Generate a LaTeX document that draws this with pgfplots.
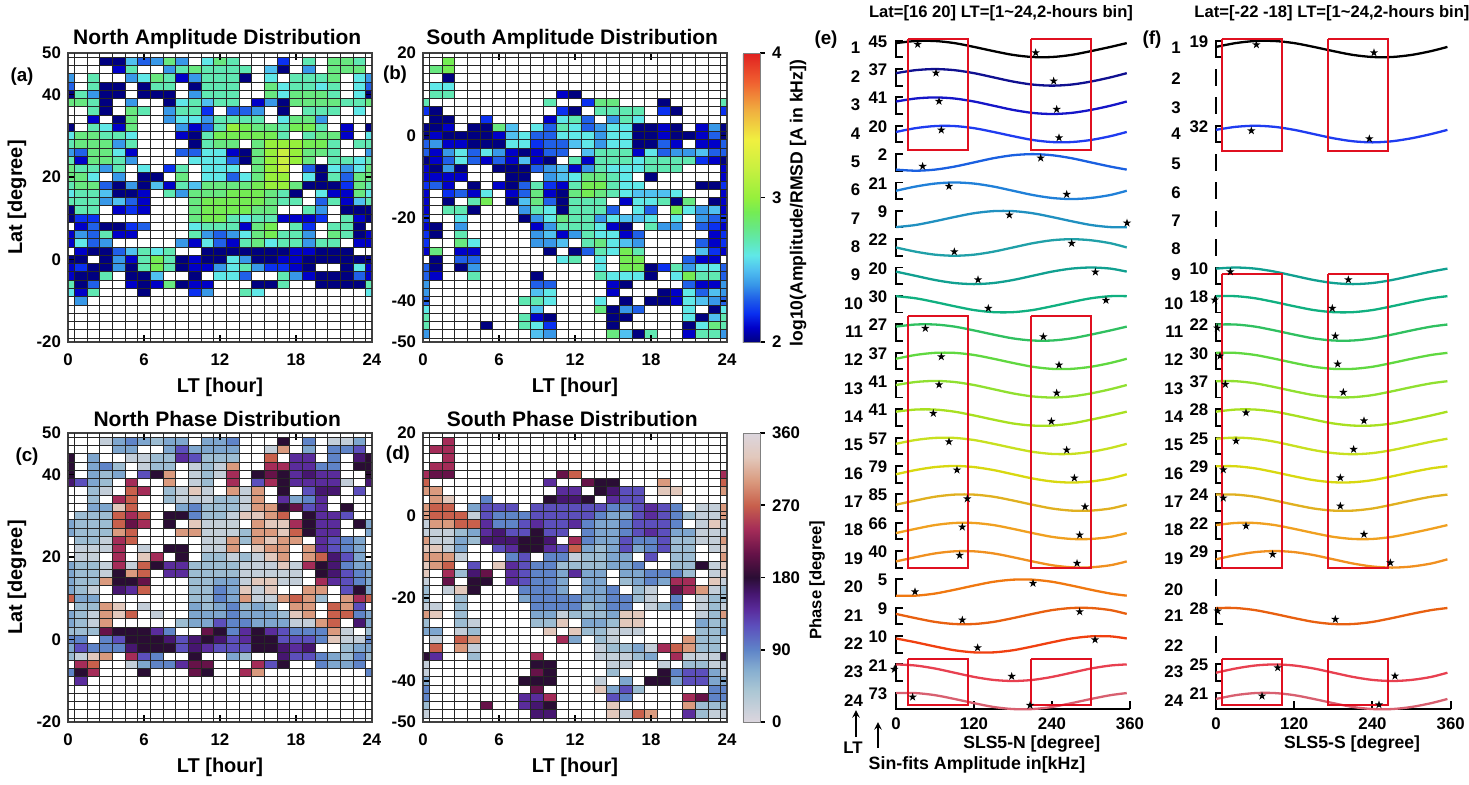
\documentclass[border=0pt]{standalone}
\usepackage{pgfplots}
\usepackage{pgfplotstable}
\usepackage{fontspec}
\setmainfont{Liberation Sans}
\pgfplotsset{compat=1.18}
\newcommand\tf{\bfseries\fontsize{8.4}{10}\selectfont}
\pgfdeclareplotmark{cellmark}{\pgfpathrectangle{\pgfqpoint{-3.2pt}{-2.1pt}}{\pgfqpoint{6.4pt}{4.2pt}}\pgfusepathqfill}
\pgfdeclareplotmark{fstar}{\pgfpathmoveto{\pgfqpoint{0pt}{2.2pt}}
\pgfpathlineto{\pgfqpoint{-.49pt}{.68pt}}\pgfpathlineto{\pgfqpoint{-2.09pt}{.68pt}}\pgfpathlineto{\pgfqpoint{-.8pt}{-.26pt}}
\pgfpathlineto{\pgfqpoint{-1.29pt}{-1.78pt}}\pgfpathlineto{\pgfqpoint{0pt}{-.84pt}}\pgfpathlineto{\pgfqpoint{1.29pt}{-1.78pt}}
\pgfpathlineto{\pgfqpoint{.8pt}{-.26pt}}\pgfpathlineto{\pgfqpoint{2.09pt}{.68pt}}\pgfpathlineto{\pgfqpoint{.49pt}{.68pt}}\pgfpathclose\pgfusepathqfill}
\pgfplotsset{
 colormap={amp}{rgb255(0)=(0,0,128);rgb255(10)=(0,0,200);rgb255(20)=(10,48,240);rgb255(30)=(32,96,232);rgb255(40)=(56,152,232);rgb255(50)=(80,192,240);rgb255(60)=(96,232,232);rgb255(70)=(96,232,178);rgb255(80)=(104,232,128);rgb255(90)=(116,236,84);rgb255(100)=(150,240,60);rgb255(120)=(200,240,64);rgb255(140)=(240,240,64);rgb255(160)=(240,176,64);rgb255(180)=(240,96,48);rgb255(200)=(224,32,32)},
 colormap={pha}{rgb255(0)=(220,214,222);rgb255(40)=(170,198,212);rgb255(65)=(134,174,208);rgb255(90)=(95,132,200);rgb255(120)=(92,79,188);rgb255(140)=(90,44,156);rgb255(160)=(70,22,112);rgb255(180)=(42,13,52);rgb255(210)=(102,18,72);rgb255(240)=(164,44,88);rgb255(270)=(200,96,76);rgb255(300)=(218,154,126);rgb255(330)=(226,200,188);rgb255(360)=(220,214,222)},
 heat/.style={scale only axis,width=152pt,height=144.5pt,xmin=0,xmax=24,xtick={0,6,12,18,24},
  axis on top,axis line style={line width=.9pt,black!75},tick align=inside,major tick length=3.5pt,
  major tick style={black,line width=.8pt},tick label style={font=\tf},/pgf/number format/assume math mode=true,
  every axis title/.style={at={(axis description cs:0.5,1)},anchor=center,yshift=7pt,xshift=-1.4pt,font=\bfseries\fontsize{10.5}{12}\selectfont},
  every axis x label/.style={at={(axis description cs:0.5,0)},anchor=center,yshift=-22.5pt,font=\bfseries\fontsize{10}{12}\selectfont},
  every axis y label/.style={at={(axis description cs:-0.168,0.5)},anchor=center,rotate=90,font=\bfseries\fontsize{10}{12}\selectfont},
  xticklabel style={yshift=-2.5pt},clip=true,clip marker paths=true,unbounded coords=discard},
 latn/.style={ymin=-20,ymax=50,ytick={-20,0,20,40,50}},
 lats/.style={ymin=-50,ymax=20,ytick={-50,-40,-20,0,20}},
 ampm/.style={colormap name=amp,point meta min=2,point meta max=4},
 pham/.style={colormap name=pha,point meta min=0,point meta max=360},
 fitax/.style={scale only axis,height=339.65pt,xmin=0,xmax=360,ymin=-709.3,ymax=-30,clip=false,
  axis x line*=bottom,axis y line=none,xtick={0,120,240,360},tick align=inside,major tick length=4pt,
  axis line style={line width=1pt},major tick style={line width=1pt,black},
  tick label style={font=\tf},/pgf/number format/assume math mode=true},
 curve/.style={no marks,smooth,line width=1.15pt},
 redbox/.style={boxred,line width=.9pt,no marks}
}
\tikzset{gl/.style={black!85,line width=.33pt}}
\newcommand\heatcells[2]{\pgfplotsinvokeforeach{1,...,25}{\addplot[forget plot,scatter,only marks,mark=cellmark,scatter src=explicit] table[x expr=##1-1,y expr={\thisrowno{##1}>0 ? \thisrowno{0} : nan},meta expr=\thisrowno{##1}#2]{#1};}}
\newcommand\gridlines[3]{\pgfplotsinvokeforeach{0.5,1.5,...,23.5}{\draw[gl] (axis cs:##1,#1)--(axis cs:##1,#2);}\pgfplotsinvokeforeach{#3}{\draw[gl] (axis cs:0,##1)--(axis cs:24,##1);}}
\newcommand\fit[3]{\addplot[curve,color=#1] table[x=x,y expr=\thisrow{#3}-(20.65+28.35*#2)]{\sinetab};}
\newcommand\brk[1]{\addplot[black,line width=.95pt,no marks] table[x=x,y expr=\thisrow{y}-(20.65+28.35*#1)]{\brtab};}
\newcommand\vbar[1]{\addplot[black,line width=.95pt,no marks] table[x expr=0,y expr=\thisrow{y}-(20.65+28.35*#1)]{\brtab};}
\definecolor{r1}{RGB}{0,0,0}\definecolor{r2}{RGB}{16,16,144}\definecolor{r3}{RGB}{21,21,200}\definecolor{r4}{RGB}{31,60,240}
\definecolor{r5}{RGB}{26,96,224}\definecolor{r6}{RGB}{32,128,216}\definecolor{r7}{RGB}{32,144,192}\definecolor{r8}{RGB}{32,160,168}
\definecolor{r9}{RGB}{16,160,144}\definecolor{r10}{RGB}{16,176,128}\definecolor{r11}{RGB}{48,192,96}\definecolor{r12}{RGB}{96,216,64}
\definecolor{r13}{RGB}{144,224,48}\definecolor{r14}{RGB}{168,224,32}\definecolor{r15}{RGB}{200,224,32}\definecolor{r16}{RGB}{216,216,16}
\definecolor{r17}{RGB}{224,176,32}\definecolor{r18}{RGB}{240,160,32}\definecolor{r19}{RGB}{240,144,32}\definecolor{r20}{RGB}{240,120,16}
\definecolor{r21}{RGB}{232,96,16}\definecolor{r22}{RGB}{240,64,16}\definecolor{r23}{RGB}{232,64,80}\definecolor{r24}{RGB}{216,96,112}
\definecolor{boxred}{RGB}{224,16,32}
\pgfplotstableread{
x p0 p15 p30 p45 p60 p75 p90 p105 p165 p195 p210 p270 p285 p300 p315 p345
0 8.3 8.0 7.2 5.9 4.2 2.1 0 -2.1 -8.0 -8.0 -7.2 0 2.1 4.2 5.9 8.0
30 7.2 8.0 8.3 8.0 7.2 5.9 4.2 2.1 -5.9 -8.0 -8.3 -4.2 -2.1 0 2.1 5.9
60 4.2 5.9 7.2 8.0 8.3 8.0 7.2 5.9 -2.1 -5.9 -7.2 -7.2 -5.9 -4.2 -2.1 2.1
90 0 2.1 4.2 5.9 7.2 8.0 8.3 8.0 2.1 -2.1 -4.2 -8.3 -8.0 -7.2 -5.9 -2.1
120 -4.2 -2.1 0 2.1 4.2 5.9 7.2 8.0 5.9 2.1 0 -7.2 -8.0 -8.3 -8.0 -5.9
150 -7.2 -5.9 -4.2 -2.1 0 2.1 4.2 5.9 8.0 5.9 4.2 -4.2 -5.9 -7.2 -8.0 -8.0
180 -8.3 -8.0 -7.2 -5.9 -4.2 -2.1 0 2.1 8.0 8.0 7.2 0 -2.1 -4.2 -5.9 -8.0
210 -7.2 -8.0 -8.3 -8.0 -7.2 -5.9 -4.2 -2.1 5.9 8.0 8.3 4.2 2.1 0 -2.1 -5.9
240 -4.2 -5.9 -7.2 -8.0 -8.3 -8.0 -7.2 -5.9 2.1 5.9 7.2 7.2 5.9 4.2 2.1 -2.1
270 0 -2.1 -4.2 -5.9 -7.2 -8.0 -8.3 -8.0 -2.1 2.1 4.2 8.3 8.0 7.2 5.9 2.1
300 4.2 2.1 0 -2.1 -4.2 -5.9 -7.2 -8.0 -5.9 -2.1 0 7.2 8.0 8.3 8.0 5.9
330 7.2 5.9 4.2 2.1 0 -2.1 -4.2 -5.9 -8.0 -5.9 -4.2 4.2 5.9 7.2 8.0 8.0
355 8.3 8.0 7.2 5.9 4.2 2.1 0 -2.1 -8.0 -8.0 -7.2 0 2.1 4.2 5.9 8.0
}\sinetab
\pgfplotstableread{
x y
10 8.3
0 8.3
0 -8.3
10 -8.3
}\brtab
\pgfplotstableread{
x y
33.3 44.3
214.9 52.7
61.5 73
242.6 81
66.2 101.3
247.2 109.3
69.7 130
250.8 137.7
41 166.3
222.6 158
81.5 186.3
262.6 194.3
174.4 215
355.4 223
89.7 251.7
270.3 243.3
126.2 279.7
306.7 272
142 308.3
323 300.3
45.1 328.3
226.7 336.7
69.7 356.7
250.8 365
66.2 384.7
247.2 393
57.4 413.3
239 421.3
81.5 441.7
262.6 450
93.8 470
274.4 478
109.7 498.7
290.8 506.7
102 527
282.6 535
97.9 555.3
278.5 563.3
29.2 591.7
210.8 583.3
102 620
282.6 611.7
125.6 647.7
306.2 639.7
-2.6 669.3
178 676.3
25.6 697
206.2 705.3
}\starse
\pgfplotstableread{
x y
61.9 44.7
242.3 52.7
54.2 130.7
235.2 138.7
22 271.7
203 279.7
-2 300
178.4 308.3
2 328
183 336
6.1 356
186.6 364
14.3 384.3
195.3 392.3
46 412.7
227 420.7
30.7 441
211.1 449.3
11.2 469.7
190.7 477.7
11.2 498
190.7 506
46 526
227 534.3
86.9 554.3
267.4 562.7
2.6 611
183 619.3
94.6 667.7
274.5 676
70.6 696
250 704.7
}\starsf
\pgfplotstableread[header=false]{
48 0 0 0 20 20 25 23 24 28 24 0 26 28 27 0 0 0 22 0 27 0 28 28 27 0
46 0 0 0 0 21 27 0 0 24 27 28 27 27 27 27 0 25 20 0 24 0 28 28 28 0
44 24 0 27 0 0 24 26 28 27 21 24 27 27 27 20 0 26 0 27 27 27 28 0 26 24
42 23 0 27 20 20 0 20 27 27 0 20 27 27 27 0 0 28 26 27 27 26 27 0 26 23
40 20 27 24 20 20 0 20 20 20 0 24 27 27 27 0 0 28 26 28 28 28 27 0 26 20
38 28 28 27 20 0 24 0 0 20 26 27 25 27 27 0 21 24 20 28 28 28 28 27 27 28
36 0 0 27 20 0 28 27 0 24 27 27 22 0 23 23 24 0 20 0 27 27 27 0 26 0
34 0 0 21 0 20 28 0 0 24 26 26 24 27 27 27 27 0 26 28 28 24 0 0 0 0
32 20 0 27 26 21 28 0 0 0 24 21 23 27 30 29 28 28 27 29 29 27 0 21 0 20
30 26 28 28 27 27 26 0 0 0 21 20 27 29 29 29 29 29 27 0 27 28 28 21 0 26
28 27 28 28 28 24 27 0 0 0 0 20 27 28 28 0 28 30 30 30 29 29 27 0 27 27
26 24 23 28 28 26 21 0 0 0 23 23 26 26 21 20 28 30 32 30 28 28 27 0 0 24
24 27 21 28 28 27 24 0 0 0 0 26 26 26 23 20 28 30 32 30 28 0 27 27 26 27
22 28 27 27 24 27 0 26 0 22 27 0 26 26 26 0 28 30 32 0 23 20 26 24 26 28
20 28 28 26 0 24 0 20 20 0 28 0 26 26 23 26 28 30 30 0 26 20 27 23 28 28
18 27 28 28 23 20 24 20 25 21 27 25 28 28 28 28 29 30 30 28 20 20 20 22 28 27
16 26 27 27 25 20 20 21 0 27 24 28 28 28 29 29 29 28 27 20 0 26 21 21 28 26
14 27 27 27 24 25 23 21 0 0 0 28 29 29 29 29 29 28 27 27 0 23 27 21 25 27
12 20 27 27 0 21 22 21 0 0 0 28 29 29 29 29 28 28 0 0 27 24 0 20 20 20
10 20 22 22 0 0 0 0 0 0 0 28 29 29 27 26 27 27 21 21 21 22 0 27 21 20
8 0 21 23 20 20 22 23 0 0 0 26 27 27 27 21 28 29 0 27 22 0 27 27 20 0
6 21 24 23 27 21 21 0 0 0 0 27 24 23 24 26 28 29 27 27 24 0 28 27 20 21
4 21 26 23 24 0 0 0 0 0 24 21 26 23 21 27 28 26 27 27 24 27 27 0 21 21
2 0 21 20 20 23 25 27 26 27 0 0 20 20 20 20 20 20 20 21 21 20 20 20 0 0
0 20 20 0 20 24 21 27 29 27 20 21 20 20 26 24 20 20 21 21 20 20 20 20 20 20
-2 21 22 20 20 24 20 27 29 27 20 21 21 24 26 27 24 22 22 21 20 0 0 20 26 21
-4 21 20 20 27 0 20 20 25 0 0 20 0 26 26 23 0 0 27 24 21 20 20 20 23 21
-6 27 20 23 0 0 21 20 21 28 20 21 21 0 0 0 20 20 27 0 0 20 20 20 20 27
-8 26 21 27 0 0 0 20 0 0 0 22 24 0 0 27 26 0 0 0 0 0 0 0 0 26
-10 0 24 0 0 0 0 0 0 0 0 0 0 0 0 0 0 0 0 0 0 0 0 0 0 0
}\tabA
\pgfplotstableread[header=false]{
18 0 0 29 0 0 0 0 0 0 0 0 0 0 0 0 0 0 0 0 0 0 0 0 0 0
16 0 28 29 0 0 0 0 0 0 0 0 0 0 0 0 0 0 0 0 0 0 0 0 0 0
14 0 0 20 0 0 0 0 0 0 0 0 0 0 0 0 0 0 0 0 0 0 0 0 0 0
12 0 26 26 0 0 0 0 0 0 0 0 0 0 0 0 0 0 0 0 0 0 0 0 0 0
10 0 27 27 0 0 0 0 0 0 0 0 21 20 0 0 0 0 0 0 0 0 0 0 0 0
8 27 0 0 0 0 0 0 0 0 0 27 0 0 22 28 28 0 0 0 20 0 0 0 0 27
6 22 20 0 0 0 0 0 0 0 0 0 22 20 0 27 27 27 27 0 22 20 0 0 0 22
4 0 20 20 0 0 22 0 0 0 0 21 26 27 23 0 24 27 26 0 0 0 0 0 0 0
2 20 20 21 0 20 20 28 25 0 26 23 27 26 23 24 26 26 20 20 21 20 0 21 24 20
0 20 21 20 20 20 20 21 25 26 23 23 26 26 26 24 26 26 20 20 21 20 20 21 23 20
-2 23 24 21 21 20 20 20 26 26 22 23 23 25 26 24 26 26 20 20 23 21 0 21 21 23
-4 23 21 24 26 23 26 24 21 20 21 23 23 0 25 27 27 27 21 26 23 24 24 25 23 23
-6 20 21 23 26 23 21 23 21 25 21 20 0 27 21 27 27 27 26 27 27 27 27 22 21 20
-8 21 20 24 20 0 0 20 20 20 23 24 25 21 24 27 26 26 26 27 27 27 0 0 0 21
-10 21 21 21 21 0 0 0 20 20 0 24 25 26 28 28 27 26 0 20 0 0 0 0 0 21
-12 22 23 21 0 20 0 21 20 23 27 22 21 27 29 29 27 26 26 0 0 0 0 20 20 22
-14 21 0 22 23 21 26 0 21 23 28 21 20 28 29 28 27 26 25 25 25 26 0 0 0 21
-16 21 0 20 0 27 29 0 20 25 28 23 20 27 27 27 0 21 26 26 27 20 28 0 20 21
-18 21 0 27 27 20 0 0 0 24 27 26 20 27 27 27 23 0 26 23 0 29 26 24 25 21
-20 22 0 0 26 0 0 0 0 20 24 26 28 27 27 24 26 25 25 26 0 26 0 24 23 22
-22 21 20 0 24 0 0 0 0 0 21 24 27 27 27 26 21 20 0 27 24 24 0 23 22 21
-24 22 20 0 27 0 0 0 0 0 24 25 21 24 27 26 26 21 23 0 0 0 0 0 21 22
-26 22 0 0 28 26 0 0 0 0 24 24 25 0 27 28 26 25 24 0 0 0 0 23 21 22
-28 21 28 0 21 21 0 0 0 0 0 20 0 20 23 27 26 29 27 0 0 0 0 25 22 21
-30 0 20 0 23 23 0 0 0 0 0 0 26 27 0 26 0 29 29 0 0 0 23 21 21 0
-32 23 20 0 20 24 0 0 0 0 0 0 0 0 0 26 0 29 29 20 22 27 24 26 26 23
-34 23 21 0 0 27 0 0 0 0 20 0 0 0 0 27 26 26 26 20 0 26 29 27 27 23
-36 24 0 0 0 0 0 0 0 0 23 23 0 0 0 0 21 20 0 0 0 0 23 21 21 24
-38 24 0 0 0 0 0 0 0 0 25 26 0 0 0 0 21 0 0 0 20 21 26 23 25 24
-40 23 0 0 0 0 0 0 0 27 27 26 0 0 0 26 0 20 0 20 20 21 26 25 24 23
-42 26 0 0 0 0 0 0 0 0 25 0 0 0 0 28 20 24 23 0 0 0 26 0 20 26
-44 27 0 0 0 0 0 0 0 27 21 20 0 0 0 0 20 20 0 0 0 0 26 20 25 27
-46 27 0 0 0 0 20 0 0 27 26 22 0 0 0 0 20 0 0 0 0 0 20 26 28 27
-48 24 0 0 0 0 0 0 0 0 25 24 0 0 0 0 28 25 20 27 0 0 21 27 27 24
}\tabB
\pgfplotstableread[header=false]{
48 0 0 0 2 7 9 7 5 7 7 0 7 7 9 0 0 0 18 0 9 0 2 2 7 0
46 0 0 0 0 7 7 0 0 7 12 7 7 7 7 0 0 2 30 0 7 0 9 9 12 0
44 18 0 7 0 0 2 2 5 5 14 12 5 5 5 0 0 27 0 14 14 0 9 0 16 18
42 18 0 7 9 5 0 2 5 5 0 2 5 2 30 0 0 24 24 14 14 9 9 0 18 18
40 18 0 7 5 7 0 12 18 30 0 2 5 2 24 0 18 21 18 14 16 14 14 0 0 18
38 16 12 7 5 0 24 0 0 30 0 2 5 0 24 0 12 24 18 14 14 14 14 2 0 16
36 0 0 5 2 0 27 24 0 5 2 33 2 0 30 2 30 0 18 0 12 16 16 0 12 0
34 0 0 5 0 24 27 0 0 5 2 2 2 5 5 2 30 0 14 7 9 14 0 0 0 0
32 0 0 7 7 33 27 0 0 0 7 9 5 5 5 2 30 30 18 21 12 14 0 18 0 0
30 0 5 5 5 27 24 27 0 18 18 9 5 5 2 33 33 30 27 0 18 14 14 12 0 0
28 7 5 5 5 27 21 24 0 18 0 33 2 2 2 0 30 33 33 24 18 14 14 0 18 7
26 7 5 5 5 30 27 0 0 0 30 30 2 2 2 5 30 30 33 27 18 14 14 0 0 7
24 0 5 5 2 24 27 0 0 0 0 0 2 2 30 5 30 33 30 30 0 14 12 9 7 0
22 0 2 2 2 24 0 2 0 18 18 0 2 2 30 0 33 30 30 0 30 14 12 9 7 0
20 0 2 2 0 24 0 33 24 0 18 0 5 5 2 5 2 33 30 0 30 27 16 12 7 0
18 7 5 5 2 24 2 27 18 14 14 5 5 5 5 2 2 2 33 2 24 18 16 9 7 7
16 7 5 5 2 18 30 27 0 14 14 5 5 5 5 2 2 2 2 2 0 18 16 12 9 7
14 7 5 5 30 18 18 21 0 0 0 5 5 7 7 2 33 33 2 2 0 24 14 12 9 7
12 7 5 2 0 16 14 27 0 0 0 5 5 9 7 33 2 33 0 0 30 30 0 12 18 7
10 27 7 7 0 0 0 0 0 0 0 5 5 9 7 30 2 2 30 27 30 5 0 30 24 27
8 0 5 5 30 33 0 2 0 0 0 7 5 7 9 5 7 5 0 30 30 0 27 30 12 0
6 7 5 2 30 33 27 0 2 0 0 7 7 7 9 7 7 7 5 33 30 0 27 27 9 7
4 7 5 2 30 0 0 0 0 0 5 7 7 12 9 9 7 7 7 2 2 30 27 0 16 7
2 5 5 5 21 18 18 18 14 9 0 0 21 18 9 14 18 14 12 9 9 9 30 2 0 5
0 9 9 0 9 12 18 18 18 16 12 16 18 16 12 14 18 18 12 12 12 9 33 2 2 9
-2 7 12 9 9 9 16 18 18 18 12 16 14 12 12 12 18 18 16 14 16 0 0 5 7 7
-4 5 2 33 30 0 24 12 9 0 0 18 0 0 7 5 0 0 16 12 12 9 7 5 9 5
-6 0 24 27 0 0 2 7 9 9 14 21 21 0 0 0 24 12 18 0 0 9 7 7 9 0
-8 9 18 24 0 0 0 18 0 0 0 21 18 0 0 24 30 0 0 0 0 0 0 0 0 9
-10 0 14 0 0 0 0 0 0 0 0 0 0 0 0 0 0 0 0 0 0 0 0 0 0 0
}\tabC
\pgfplotstableread[header=false]{
18 0 0 24 0 0 0 0 0 0 0 0 0 0 0 0 0 0 0 0 0 0 0 0 0 0
16 0 24 24 0 0 0 0 0 0 0 0 0 0 0 0 0 0 0 0 0 0 0 0 0 0
14 0 0 24 0 0 0 0 0 0 0 0 0 0 0 0 0 0 0 0 0 0 0 0 0 0
12 0 24 24 0 0 0 0 0 0 0 0 0 0 0 0 0 0 0 0 0 0 0 0 0 0
10 24 21 21 0 0 0 0 0 0 0 0 21 27 0 0 0 0 0 0 0 0 0 0 0 24
8 27 0 0 0 0 0 0 0 0 0 14 0 0 21 18 18 0 0 0 30 0 0 0 0 27
6 30 30 0 0 0 0 0 0 0 0 0 14 14 0 18 16 12 12 0 33 33 0 0 0 30
4 0 30 33 0 0 9 0 0 0 0 18 16 16 18 0 14 12 12 0 0 0 0 0 0 0
2 30 27 27 0 7 12 12 12 0 12 12 12 12 12 12 9 9 12 14 12 9 0 2 2 30
0 30 27 27 27 2 12 9 9 9 12 12 12 12 12 9 7 7 12 14 12 9 5 2 2 30
-2 2 30 30 27 27 14 9 9 12 14 12 12 14 9 7 7 9 12 12 12 9 0 2 33 2
-4 2 2 2 5 7 14 16 12 12 18 12 12 0 9 7 7 9 12 14 12 7 7 2 2 2
-6 30 2 2 7 5 16 16 16 18 18 16 0 24 9 7 7 12 9 9 12 5 5 2 2 30
-8 33 33 2 7 0 0 12 14 18 18 14 12 27 7 5 7 12 7 9 12 5 5 0 2 33
-10 30 30 30 2 0 0 0 9 12 0 9 9 2 5 5 7 7 0 12 0 5 5 0 0 30
-12 33 30 27 0 12 0 33 14 12 9 9 5 5 5 5 7 7 9 0 0 5 5 18 2 33
-14 33 0 24 5 16 21 0 14 12 9 9 7 14 7 7 0 7 7 9 9 9 5 0 2 33
-16 2 0 21 0 18 18 0 14 12 9 9 7 0 7 7 0 5 7 9 7 24 24 0 33 2
-18 5 0 2 33 18 0 0 0 9 9 9 7 0 7 7 9 0 5 2 0 21 24 30 2 5
-20 5 0 0 5 0 0 0 0 7 9 9 9 9 7 7 9 9 5 2 0 9 0 2 5 5
-22 2 2 0 5 0 0 0 0 0 9 9 9 9 5 7 9 9 0 2 5 9 0 2 5 2
-24 30 33 0 5 0 0 0 0 0 7 7 2 5 5 5 7 33 33 0 0 0 0 2 5 30
-26 5 0 0 5 2 0 0 0 0 5 5 33 0 7 7 5 33 33 0 0 0 0 7 5 5
-28 7 7 0 2 5 0 0 0 0 0 33 0 33 5 5 2 2 2 0 0 0 0 5 5 7
-30 0 2 0 27 30 0 0 0 0 0 0 24 7 0 5 2 0 0 0 0 0 30 5 5 0
-32 0 27 0 30 2 0 0 0 0 0 0 0 0 0 2 5 5 7 2 24 27 30 5 5 0
-34 18 14 0 0 5 0 0 0 0 24 0 0 0 0 2 2 2 5 7 0 24 2 2 2 18
-36 2 0 0 0 0 0 0 0 0 18 18 0 0 0 0 2 2 0 0 2 0 5 5 2 2
-38 2 0 0 0 0 0 0 0 0 21 18 0 0 0 0 5 0 0 0 18 9 12 12 7 2
-40 7 0 0 0 0 0 0 0 18 18 18 0 0 0 2 0 7 0 18 18 7 12 12 7 7
-42 9 0 0 0 0 0 0 0 0 21 0 0 0 0 33 7 12 5 0 0 0 0 0 9 9
-44 9 0 0 0 0 0 0 0 14 14 24 0 0 0 0 12 9 0 0 0 0 24 21 9 9
-46 5 0 0 0 0 21 0 0 14 16 18 0 0 0 0 33 0 0 0 0 0 30 5 5 5
-48 2 0 0 0 0 0 0 0 0 16 16 0 0 0 0 33 2 27 30 0 0 14 5 2 2
}\tabD
\begin{document}
\begin{tikzpicture}
\path[use as bounding box] (0pt,0pt) rectangle (734.5pt,-392pt);
\begin{axis}[heat,latn,ampm,at={(34pt,-171pt)},anchor=south west,title={North Amplitude Distribution},xlabel={LT [hour]},ylabel={Lat [degree]},
 after end axis/.code={\gridlines{-20}{50}{-19,-17,...,49}}]
\heatcells{\tabA}{/10}
\end{axis}
\begin{axis}[heat,lats,ampm,at={(211.5pt,-171pt)},anchor=south west,title={South Amplitude Distribution},xlabel={LT [hour]},
 after end axis/.code={\gridlines{-50}{20}{-49,-47,...,19}},
 colorbar,colorbar style={at={(1.0526,1)},anchor=north west,width=8.5pt,ytick={2,3,4},tick label style={font=\tf},major tick length=2.5pt,tick align=outside,
 axis line style={black!50,line width=.3pt},/pgf/number format/assume math mode=true,ytick pos=right}]
\heatcells{\tabB}{/10}
\end{axis}
\begin{axis}[heat,latn,pham,at={(34pt,-361pt)},anchor=south west,title={North Phase Distribution},xlabel={LT [hour]},ylabel={Lat [degree]},
 after end axis/.code={\gridlines{-20}{50}{-19,-17,...,49}}]
\heatcells{\tabC}{*10}
\end{axis}
\begin{axis}[heat,lats,pham,at={(211.5pt,-361pt)},anchor=south west,title={South Phase Distribution},xlabel={LT [hour]},
 after end axis/.code={\gridlines{-50}{20}{-49,-47,...,19}},
 colorbar,colorbar style={at={(1.0526,1)},anchor=north west,width=8.5pt,ytick={0,90,180,270,360},tick label style={font=\tf},major tick length=2.5pt,tick align=outside,
 axis line style={black!50,line width=.3pt},/pgf/number format/assume math mode=true,ytick pos=right}]
\heatcells{\tabD}{*10}
\end{axis}
\begin{axis}[fitax,width=117pt,at={(448pt,-354.65pt)},anchor=south west,xlabel={SLS5-N [degree]},
 every axis x label/.style={at={(axis description cs:0.58,0)},anchor=center,yshift=-17.5pt,font=\bfseries\fontsize{8.8}{11}\selectfont},xticklabel style={yshift=-.5pt}]
\pgfplotsinvokeforeach{1,...,24}{\brk{#1}}
\fit{r1}{1}{p45}\fit{r2}{2}{p60}\fit{r3}{3}{p60}\fit{r4}{4}{p75}\fit{r5}{5}{p210}\fit{r6}{6}{p90}
\fit{r7}{7}{p165}\fit{r8}{8}{p270}\fit{r9}{9}{p300}\fit{r10}{10}{p345}\fit{r11}{11}{p45}\fit{r12}{12}{p75}
\fit{r13}{13}{p60}\fit{r14}{14}{p45}\fit{r15}{15}{p75}\fit{r16}{16}{p90}\fit{r17}{17}{p105}\fit{r18}{18}{p105}
\fit{r19}{19}{p105}\fit{r20}{20}{p195}\fit{r21}{21}{p285}\fit{r22}{22}{p315}\fit{r23}{23}{p0}\fit{r24}{24}{p15}
\addplot[only marks,mark=fstar,black] table[x=x,y expr=-\thisrow{y}]{\starse};
\addplot[redbox] coordinates {(18.9,-38.7)(110.3,-38.7)(110.3,-150)(18.9,-150)(18.9,-38.7)};
\addplot[redbox] coordinates {(208.2,-38.7)(299.5,-38.7)(299.5,-150)(208.2,-150)(208.2,-38.7)};
\addplot[redbox] coordinates {(18.9,-316)(110.3,-316)(110.3,-567.7)(18.9,-567.7)(18.9,-316)};
\addplot[redbox] coordinates {(208.2,-316)(299.5,-316)(299.5,-567.7)(208.2,-567.7)(208.2,-316)};
\addplot[redbox] coordinates {(18.9,-659.3)(110.3,-659.3)(110.3,-705)(18.9,-705)(18.9,-659.3)};
\addplot[redbox] coordinates {(208.2,-659.3)(299.5,-659.3)(299.5,-705)(208.2,-705)(208.2,-659.3)};
\end{axis}
\begin{axis}[fitax,width=117.35pt,at={(608pt,-354.65pt)},anchor=south west,xlabel={SLS5-S [degree]},
 every axis x label/.style={at={(axis description cs:0.58,0)},anchor=center,yshift=-17.5pt,font=\bfseries\fontsize{8.8}{11}\selectfont},xticklabel style={yshift=-.5pt}]
\pgfplotsinvokeforeach{1,4,9,10,11,12,13,14,15,16,17,18,19,21,23,24}{\brk{#1}}
\pgfplotsinvokeforeach{2,3,5,6,7,8,20,22}{\vbar{#1}}
\fit{r1}{1}{p75}\fit{r4}{4}{p60}\fit{r9}{9}{p30}\fit{r10}{10}{p15}\fit{r11}{11}{p15}\fit{r12}{12}{p15}
\fit{r13}{13}{p15}\fit{r14}{14}{p45}\fit{r15}{15}{p30}\fit{r16}{16}{p15}\fit{r17}{17}{p15}\fit{r18}{18}{p45}
\fit{r19}{19}{p90}\fit{r21}{21}{p15}\fit{r23}{23}{p90}\fit{r24}{24}{p75}
\addplot[only marks,mark=fstar,black] table[x=x,y expr=-\thisrow{y}]{\starsf};
\addplot[redbox] coordinates {(8.7,-38.7)(100.8,-38.7)(100.8,-151)(8.7,-151)(8.7,-38.7)};
\addplot[redbox] coordinates {(172.2,-38.7)(263.8,-38.7)(263.8,-151)(172.2,-151)(172.2,-38.7)};
\addplot[redbox] coordinates {(8.7,-274)(100.8,-274)(100.8,-567.7)(8.7,-567.7)(8.7,-274)};
\addplot[redbox] coordinates {(172.2,-274)(263.8,-274)(263.8,-567.7)(172.2,-567.7)(172.2,-274)};
\addplot[redbox] coordinates {(8.7,-659.3)(100.8,-659.3)(100.8,-705)(8.7,-705)(8.7,-659.3)};
\addplot[redbox] coordinates {(172.2,-659.3)(263.8,-659.3)(263.8,-705)(172.2,-705)(172.2,-659.3)};
\end{axis}
\begin{scope}[x=0.5pt,y=-0.5pt]
\def\bigf{\bfseries\fontsize{9.4}{11}\selectfont}
\node[font=\bigf] at (22,77) {(a)};
\node[font=\bigf] at (395,75) {(b)};
\node[font=\bigf] at (27,457) {(c)};
\node[font=\bigf] at (398,455) {(d)};
\node[font=\bigf] at (826,40) {(e)};
\node[font=\bigf] at (1152,40) {(f)};
\node[rotate=90,font=\bfseries\fontsize{8.8}{10}\selectfont] at (798,203) {log10(Amplitude/RMSD [A in kHz])};
\node[font=\bfseries\fontsize{8.3}{9}\selectfont] at (1001,13) {Lat=[16 20] LT=[1\textasciitilde24,2-hours bin]};
\node[font=\bfseries\fontsize{8.3}{9}\selectfont] at (1332,13) {Lat=[-22 -18] LT=[1\textasciitilde24,2-hours bin]};
\node[rotate=90,font=\bfseries\fontsize{8.3}{10}\selectfont] at (817,580) {Phase [degree]};
\node[font=\tf] at (853,748) {LT};
\node[font=\bfseries\fontsize{8.9}{10}\selectfont] at (977,765) {Sin-fits Amplitude in[kHz]};
\draw[-stealth,line width=.7pt] (856,737)--(856,710);
\draw[-stealth,line width=.7pt] (878,748)--(878,722);
\foreach \k in {1,...,9}{\pgfmathsetmacro\yy{20.65+28.35*\k-.8}\node[font=\tf,anchor=east,inner sep=0pt] at (860.7,\yy) {\k};}
\foreach \k in {10,...,24}{\pgfmathsetmacro\yy{20.65+28.35*\k-.8}\node[font=\tf,anchor=east,inner sep=0pt] at (863.3,\yy) {\k};}
\foreach \k in {1,4,9}{\pgfmathsetmacro\yy{20.65+28.35*\k-.8}\node[font=\tf,anchor=east,inner sep=0pt] at (1181,\yy) {\k};}
\foreach \k in {2,3,5,6,7,8}{\pgfmathsetmacro\yy{20.65+28.35*\k+1.7}\node[font=\tf,anchor=east,inner sep=0pt] at (1181,\yy) {\k};}
\foreach \k in {10,11,12,13,14,15,16,17,18,19,21,23,24}{\pgfmathsetmacro\yy{20.65+28.35*\k-.8}\node[font=\tf,anchor=east,inner sep=0pt] at (1183.5,\yy) {\k};}
\foreach \k in {20,22}{\pgfmathsetmacro\yy{20.65+28.35*\k+1.7}\node[font=\tf,anchor=east,inner sep=0pt] at (1183.5,\yy) {\k};}
\foreach \k/\n in {1/45,2/37,3/41,4/20,5/2,6/21,7/9,8/22,9/20,10/30,11/27,12/37,13/41,14/41,15/57,16/79,17/85,18/66,19/40,20/5,21/9,22/10,23/21,24/73}{\pgfmathsetmacro\yy{20.65+28.35*\k-7.5}\node[font=\tf,anchor=east,inner sep=0pt] at (887.7,\yy) {\n};}
\foreach \k/\n in {1/19,4/32,9/10,10/18,11/22,12/30,13/37,14/28,15/25,16/29,17/24,18/22,19/29,21/28,23/25,24/21}{\pgfmathsetmacro\yy{20.65+28.35*\k-7.5}\node[font=\tf,anchor=east,inner sep=0pt] at (1208.7,\yy) {\n};}
\end{scope}
\end{tikzpicture}
\end{document}
